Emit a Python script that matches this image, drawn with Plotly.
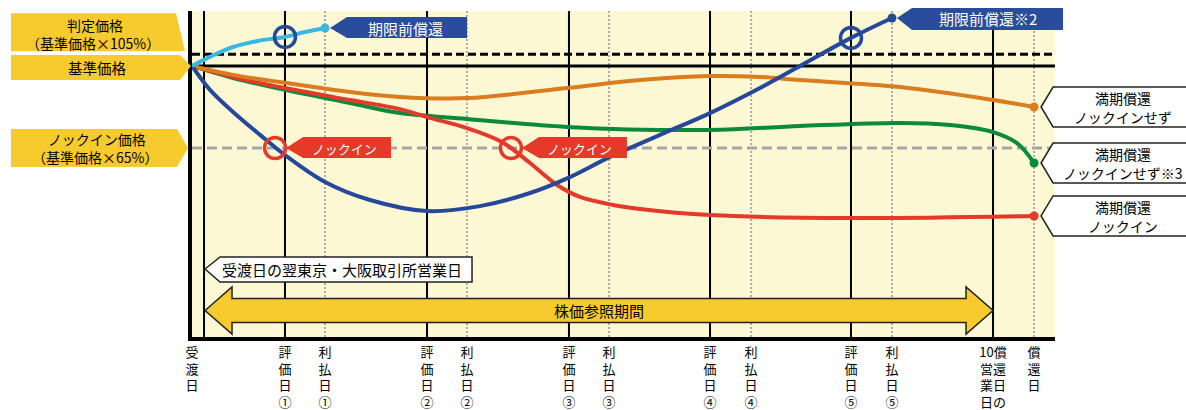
import plotly.graph_objects as go

FONT = "Noto Sans CJK JP"

# ---------------- data ----------------
# x positions (one unit = one observation period)
x_delivery = 0.0
x_start = 0.085            # 受渡日の翌東京・大阪取引所営業日
x_eval = [0.657, 1.661, 2.664, 3.661, 4.657]
x_pay = [0.940, 1.943, 2.947, 3.951, 4.947]
x_before = 5.661           # 償還日の10営業日前
x_redeem = 5.951

eval_names = ["評価日①", "評価日②", "評価日③", "評価日④", "評価日⑤"]
pay_names = ["利払日①", "利払日②", "利払日③", "利払日④", "利払日⑤"]
delivery_name = "受渡日"
before_rows = ["10償", "営還", "業日", "日の", "前\u3000"]
redeem_name = "償還日"

# price levels (% of 基準価格)
level_judge = 105
level_base = 100
level_ki = 65

# early redemption at 利払日① (light blue)
cyan_x = [0.0, 0.141, 0.290, 0.466, 0.657, 0.799, 0.940]
cyan_y = [100, 104.3, 108.1, 110.7, 112.4, 114.5, 116.2]

# knock-in then early redemption at 利払日⑤ (blue)
blue_x = [0.0, 0.127, 0.290, 0.481, 0.657, 0.940, 1.258, 1.661, 2.035, 2.389,
          2.671, 2.954, 3.307, 3.661, 4.014, 4.297, 4.657, 4.947]
blue_y = [100, 89.8, 80.4, 70.6, 62.0, 50.5, 42.8, 38.1, 40.2, 45.8,
          52.6, 61.2, 70.6, 79.9, 90.6, 100, 112.0, 120.5]

# maturity, no knock-in (orange)
orange_x = [0.0, 0.290, 0.763, 1.117, 1.470, 1.943, 2.650, 3.166, 3.661, 4.014,
            4.297, 5.004, 5.661, 5.951]
orange_y = [100, 96.2, 91.9, 88.9, 86.8, 86.3, 90.6, 94.0, 95.7, 95.3,
            94.0, 91.0, 85.5, 82.5]

# maturity, no knock-in (※3) (green)
green_x = [0.0, 0.290, 0.657, 1.117, 1.470, 1.943, 2.650, 3.661, 4.297, 5.004,
           5.357, 5.661, 5.830, 5.951]
green_y = [100, 94.9, 89.8, 84.2, 79.9, 77.4, 74.0, 72.7, 74.4, 75.7,
           74.8, 71.8, 67.1, 58.6]

# maturity, knock-in (red)
red_x = [0.0, 0.290, 0.657, 1.117, 1.470, 1.661, 1.943, 2.177, 2.254, 2.389,
         2.580, 2.742, 2.975, 3.166, 3.661, 4.657, 5.951]
red_y = [100, 95.3, 90.6, 85.5, 81.6, 78.2, 73.5, 68.0, 65.0, 58.6,
         49.2, 44.1, 40.7, 39.0, 36.4, 35.1, 36.0]

# event circles
ki_x = [0.587, 2.254]
ki_y = [65, 65]
er_x = [0.657, 4.657]
er_y = [112.4, 112.0]

# ---------------- layout geometry ----------------
W, H = 1186, 410
ML, MR, MT, MB = 192, 131, 11, 73
PW = W - ML - MR
PH = H - MT - MB
XR = [0.0, PW / 141.5]
YR = [-15.66, 123.47]

C_BG = "#FDF8D4"
C_YEL = "#F7CA2E"
C_CYAN = "#3BB7E4"
C_BLUE = "#25489B"
C_ORANGE = "#DA7D1E"
C_GREEN = "#0B8A3B"
C_RED = "#E5392A"
C_BLUEBOX = "#2A4C9C"


def xp(x):
    return (x - XR[0]) / (XR[1] - XR[0])


def yp(y):
    return (y - YR[0]) / (YR[1] - YR[0])


def pt(xd, yd, dx=0.0, dy=0.0):
    x = (xp(xd) if xd is not None else 0.0) + dx / PW
    y = (yp(yd) if yd is not None else 0.0) + dy / PH
    return x, y


def poly(xd, yd, offs):
    pts = [pt(xd, yd, dx, dy) for dx, dy in offs]
    return "M " + " L ".join(f"{x:.5f},{y:.5f}" for x, y in pts) + " Z"


shapes = []
annots = []


def text(s, xd, yd, dx, dy, size=15, color="black", xanchor="center"):
    x, y = pt(xd, yd, dx, dy)
    annots.append(dict(text=s, x=x, y=y, xref="paper", yref="paper",
                       showarrow=False, xanchor=xanchor, yanchor="middle",
                       font=dict(family=FONT, size=size, color=color)))


# vertical guide lines
for xv in x_pay + [x_redeem]:
    shapes.append(dict(type="line", xref="x", yref="y", x0=xv, x1=xv,
                       y0=YR[0], y1=YR[1], layer="below",
                       line=dict(color="#ABABAB", width=2, dash="2px,2px")))
for xv in [x_start] + x_eval + [x_before]:
    shapes.append(dict(type="line", xref="x", yref="y", x0=xv, x1=xv,
                       y0=YR[0], y1=YR[1], layer="below",
                       line=dict(color="black", width=2)))
# horizontal level lines
shapes.append(dict(type="line", xref="x", yref="y", x0=XR[0], x1=XR[1],
                   y0=level_judge, y1=level_judge, layer="below",
                   line=dict(color="black", width=3, dash="8px,4px")))
shapes.append(dict(type="line", xref="x", yref="y", x0=XR[0], x1=XR[1],
                   y0=level_base, y1=level_base, layer="below",
                   line=dict(color="black", width=3)))
shapes.append(dict(type="line", xref="x", yref="y", x0=XR[0], x1=XR[1],
                   y0=level_ki, y1=level_ki, layer="below",
                   line=dict(color="#A6A6A6", width=3, dash="10px,5px")))

# left yellow labels
shapes.append(dict(type="path", xref="paper", yref="paper", fillcolor=C_YEL,
                   line=dict(width=0),
                   path=poly(None, level_judge, [(-181, 41), (-16, 41), (-7, 3), (-181, 3)])))
text("判定価格", None, level_judge, -97, 29.5, 14)
text("（基準価格×105%）", None, level_judge, -99, 11, 14)

shapes.append(dict(type="path", xref="paper", yref="paper", fillcolor=C_YEL,
                   line=dict(width=0),
                   path=poly(None, level_base, [(-181, 11), (-12, 11), (-1, 0), (-12, -14), (-181, -14)])))
text("基準価格", None, level_base, -95, -2, 14.5)

shapes.append(dict(type="path", xref="paper", yref="paper", fillcolor=C_YEL,
                   line=dict(width=0),
                   path=poly(None, level_ki, [(-181, 19), (-15, 19), (-4, 0), (-15, -19), (-181, -19)])))
text("ノックイン価格", None, level_ki, -95, 9.3, 14)
text("（基準価格×65%）", None, level_ki, -97, -9.3, 14)

# blue callouts (early redemption)
shapes.append(dict(type="path", xref="paper", yref="paper", fillcolor=C_BLUEBOX,
                   line=dict(width=0),
                   path=poly(cyan_x[-1], cyan_y[-1], [(5, 0), (22, 11), (142, 11), (142, -10), (22, -10)])))
text("期限前償還", cyan_x[-1], cyan_y[-1], 80, 0, 15, "white")
shapes.append(dict(type="path", xref="paper", yref="paper", fillcolor=C_BLUEBOX,
                   line=dict(width=0),
                   path=poly(blue_x[-1], blue_y[-1], [(5, 0), (20, 10), (171, 10), (171, -12), (20, -12)])))
text("期限前償還※2", blue_x[-1], blue_y[-1], 96, -1, 15, "white")

# red callouts (knock-in)
for kx, ky in zip(ki_x, ki_y):
    shapes.append(dict(type="path", xref="paper", yref="paper", fillcolor=C_RED,
                       line=dict(width=0),
                       path=poly(kx, ky, [(11, 0), (28, 11), (116, 11), (116, -10), (28, -10)])))
    text("ノックイン", kx, ky, 69, 0, 13, "white")

# right white callouts
right_calls = [
    (orange_x[-1], orange_y[-1], "満期償還", "ノックインせず"),
    (green_x[-1], green_y[-1], "満期償還", "ノックインせず※3"),
    (red_x[-1], red_y[-1], "満期償還", "ノックイン"),
]
for ex, ey, l1, l2 in right_calls:
    shapes.append(dict(type="path", xref="paper", yref="paper", fillcolor="white",
                       line=dict(color="#222222", width=1.5),
                       path=poly(ex, ey, [(7, 0), (19, 20), (170, 20), (170, -20), (19, -20)])))
    text(l1, ex, ey, 89, 9, 14)
    text(l2, ex, ey, 89, -10, 14)

# 受渡日の翌東京・大阪取引所営業日 callout
shapes.append(dict(type="path", xref="paper", yref="paper", fillcolor="white",
                   line=dict(color="#222222", width=1.5),
                   path=poly(x_start, None, [(1, 68), (16, 80), (268, 80), (268, 55), (16, 55)])))
text("受渡日の翌東京・大阪取引所営業日", x_start, None, 16, 67.5, 15, xanchor="left")

# 株価参照期間 double arrow
arrow = [(1, 26.5), (28, 50), (28, 38.5), (-27, 38.5), (-27, 50), (0, 26.5),
         (-27, 3), (-27, 14.5), (28, 14.5), (28, 3)]
pts = []
for i, (dx, dy) in enumerate(arrow):
    xd = x_start if i in (0, 1, 2, 8, 9) else x_before
    pts.append(pt(xd, None, dx, dy))
shapes.append(dict(type="path", xref="paper", yref="paper", fillcolor=C_YEL,
                   line=dict(color="#222222", width=1.5),
                   path="M " + " L ".join(f"{x:.5f},{y:.5f}" for x, y in pts) + " Z"))
text("株価参照期間", (x_start + x_before) / 2, None, 0, 26.5, 15)

# ---------------- traces ----------------
fig = go.Figure()
for xs, ys, col in [(green_x, green_y, C_GREEN), (red_x, red_y, C_RED),
                    (orange_x, orange_y, C_ORANGE), (blue_x, blue_y, C_BLUE),
                    (cyan_x, cyan_y, C_CYAN)]:
    fig.add_trace(go.Scatter(x=xs, y=ys, mode="lines",
                             line=dict(color=col, width=4, shape="spline", smoothing=1.0),
                             hoverinfo="skip", showlegend=False))
    fig.add_trace(go.Scatter(x=[xs[-1]], y=[ys[-1]], mode="markers",
                             marker=dict(color=col, size=9),
                             hoverinfo="skip", showlegend=False))

fig.add_trace(go.Scatter(x=ki_x, y=ki_y, mode="markers",
                         marker=dict(symbol="circle-open", size=21, color=C_RED,
                                     line=dict(width=3.5, color=C_RED)),
                         hoverinfo="skip", showlegend=False))
fig.add_trace(go.Scatter(x=er_x, y=er_y, mode="markers",
                         marker=dict(symbol="circle-open", size=21, color=C_BLUE,
                                     line=dict(width=3.5, color=C_BLUE)),
                         hoverinfo="skip", showlegend=False))


def vert(s):
    return "<br>".join(list(s))


tickvals = [x_delivery] + x_eval + x_pay + [x_before, x_redeem]
ticktext = ([vert(delivery_name)] + [vert(s) for s in eval_names] +
            [vert(s) for s in pay_names] + ["<br>".join(before_rows), vert(redeem_name)])

fig.update_layout(
    width=W, height=H,
    margin=dict(l=ML, r=MR, t=MT, b=MB, pad=0, autoexpand=False),
    paper_bgcolor="white", plot_bgcolor=C_BG,
    hovermode=False,
    shapes=shapes, annotations=annots,
    xaxis=dict(range=XR, showgrid=False, zeroline=False, showline=True,
               linewidth=4, linecolor="black", ticks="", automargin=False,
               tickvals=tickvals, ticktext=ticktext, tickangle=0,
               tickfont=dict(family=FONT, size=13, color="black")),
    yaxis=dict(range=YR, showgrid=False, zeroline=False, showline=True,
               linewidth=4, linecolor="black", ticks="", showticklabels=False,
               automargin=False),
)

fig.write_html("out.html", config={"displayModeBar": False},
               post_script="document.body.style.margin='0';document.body.style.overflow='hidden';")
